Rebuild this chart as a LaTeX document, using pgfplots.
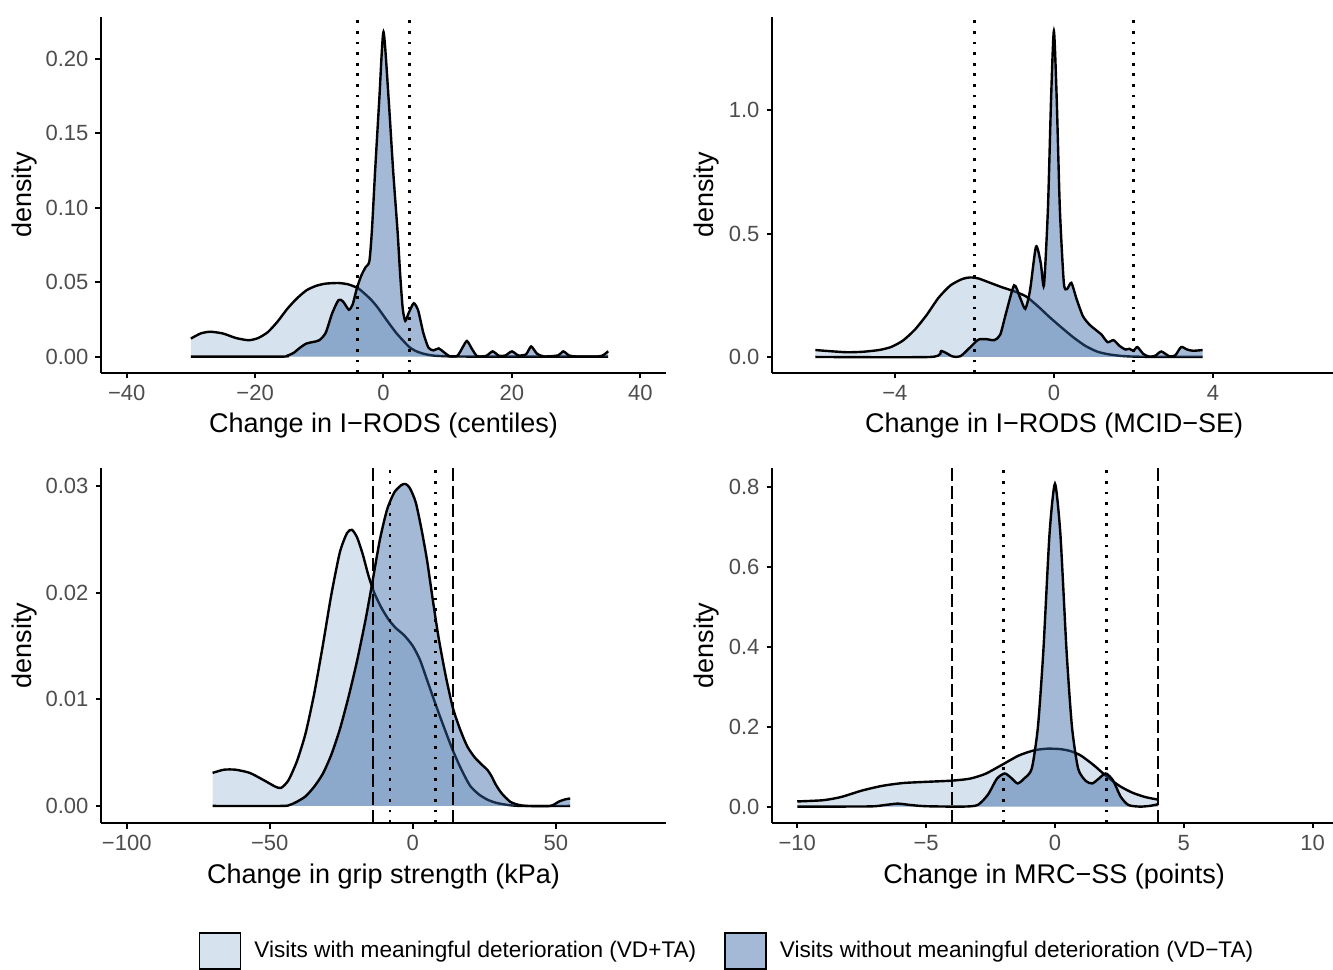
\documentclass[border=0pt]{standalone}
\usepackage{fontspec}
\setmainfont{Liberation Sans}
\usepackage{pgfplots}
\pgfplotsset{compat=1.18}
\usepackage{pgfplotstable}

\definecolor{vdlight}{HTML}{D6E3EE}
\definecolor{vddark}{HTML}{3364A4}
\definecolor{vdkey}{HTML}{A3B9D6}
\definecolor{ticktext}{HTML}{4D4D4D}

% ---- I-RODS centiles
\pgfplotstableread{
x y
-30 0.0121
-28.5 0.0155
-27 0.0167
-25 0.0155
-23 0.0125
-21 0.0110
-19.5 0.0125
-18 0.0165
-16.5 0.0235
-15 0.0320
-13.5 0.0390
-12 0.0445
-10.5 0.0475
-9 0.0490
-7 0.0494
-5.5 0.0485
-4 0.0460
-3 0.0425
-2 0.0385
-1 0.0335
0 0.0275
1 0.0215
2 0.0158
3 0.0110
4 0.0065
5 0.0038
6 0.0022
7 0.0012
8 0.0006
10 0.0002
12 0.0001
15 0
35 0
}\rodsA
\pgfplotstableread{
x y
-30 0
-16 0
-15 0.0006
-14 0.0025
-13 0.0060
-12 0.0088
-11 0.0098
-10 0.0110
-9 0.0160
-8 0.0290
-7 0.0380
-6.3 0.0370
-5.4 0.0315
-4.8 0.0350
-4.2 0.0450
-3.5 0.0540
-2.8 0.0600
-2.2 0.0640
-1.8 0.0850
-1.3 0.1250
-0.65 0.1730
0 0.2180
0.8 0.1730
1.5 0.1250
2.2 0.0835
2.6 0.0550
3.0 0.0320
3.4 0.0240
3.9 0.0290
4.7 0.0358
5.4 0.0310
6.2 0.0160
7.0 0.0060
7.8 0.0042
8.6 0.0055
9.4 0.0030
10.3 0.0003
11.5 0.0005
12.3 0.0060
13 0.0105
13.8 0.0050
14.6 0.0003
16 0.0005
17 0.0035
18 0.0005
19 0.0008
20 0.0035
21 0.0008
22.2 0.0015
23 0.0068
23.9 0.0020
25 0.0001
27.2 0.0008
28 0.0035
28.9 0.0008
30 0.0001
33.5 0.0001
34.3 0.0012
35 0.0036
}\rodsB

% ---- I-RODS MCID-SE
\pgfplotstableread{
x y
-6 0.028
-5.6 0.023
-5.2 0.019
-4.8 0.021
-4.4 0.028
-4.1 0.040
-3.8 0.066
-3.5 0.110
-3.2 0.170
-2.9 0.240
-2.6 0.290
-2.3 0.316
-2.1 0.322
-1.9 0.318
-1.6 0.300
-1.3 0.282
-1.0 0.266
-0.7 0.245
-0.4 0.205
-0.1 0.160
0.2 0.118
0.5 0.078
0.8 0.044
1.1 0.021
1.4 0.010
1.7 0.004
2.0 0.0015
2.5 0.0002
3.74 0
}\mcidA
\pgfplotstableread{
x y
-6 0
-3.1 0
-2.83 0.024
-2.55 0.002
-2.35 0.003
-2.1 0.040
-1.9 0.070
-1.7 0.072
-1.5 0.068
-1.35 0.090
-1.2 0.180
-1.0 0.290
-0.85 0.240
-0.72 0.195
-0.6 0.270
-0.45 0.447
-0.33 0.380
-0.25 0.290
-0.15 0.600
-0.07 1.050
0 1.320
0.07 1.050
0.15 0.600
0.25 0.300
0.33 0.275
0.44 0.300
0.57 0.235
0.73 0.165
0.9 0.130
1.05 0.110
1.2 0.090
1.35 0.060
1.5 0.068
1.65 0.045
1.8 0.030
1.9 0.033
2.0 0.025
2.1 0.040
2.25 0.012
2.4 0.001
2.55 0.005
2.7 0.022
2.9 0.003
3.05 0.006
3.2 0.040
3.35 0.030
3.5 0.025
3.74 0.028
}\mcidB

% ---- grip strength
\pgfplotstableread{
x y
-70 0.0031
-66 0.0034
-62 0.0034
-57 0.0031
-52 0.0024
-48 0.0018
-46 0.0017
-43.5 0.0024
-40.5 0.0042
-37.5 0.0068
-34.5 0.0105
-31.5 0.0150
-28.5 0.0198
-25.5 0.0238
-23 0.0256
-21.3 0.0259
-19.5 0.0252
-17.5 0.0236
-15.5 0.0216
-13.5 0.0200
-11 0.0186
-8.5 0.0175
-6 0.0167
-3 0.0160
0 0.0150
2.5 0.0137
5 0.0118
8 0.0095
11 0.0073
14 0.0052
17 0.0034
20 0.0019
23 0.0011
26 0.0006
29 0.0003
33 0.0001
38 0
55 0
}\gripA
\pgfplotstableread{
x y
-70 0
-46 0
-43 0.0001
-40.5 0.0004
-37.5 0.0009
-34.5 0.0018
-31.5 0.0030
-28.5 0.0048
-25.5 0.0072
-22.5 0.0102
-19.5 0.0136
-16.5 0.0175
-14 0.0212
-11.5 0.0250
-9 0.0278
-6.5 0.0294
-4 0.0301
-2.5 0.0302
-1 0.0298
1 0.0285
3 0.0260
5 0.0230
7 0.0193
9 0.0158
11.5 0.0122
14 0.0092
16.5 0.0072
19 0.0056
21.5 0.0046
24 0.0039
26 0.0034
27.5 0.0028
29 0.0020
31 0.0012
34 0.0004
37 0.0001
40 0
48 0
51 0.0004
53 0.0006
55 0.0007
}\gripB

% ---- MRC-SS
\pgfplotstableread{
x y
-10 0.013
-9 0.016
-8.3 0.024
-7.5 0.040
-6.7 0.052
-5.9 0.059
-5 0.062
-4 0.065
-3.3 0.070
-2.7 0.082
-2.1 0.103
-1.4 0.128
-0.8 0.141
-0.3 0.145
0.2 0.144
0.6 0.139
1.0 0.128
1.5 0.104
2.0 0.076
2.5 0.052
3.0 0.035
3.5 0.024
4.0 0.0175
}\mrcA
\pgfplotstableread{
x y
-10 0
-7.2 0.0005
-6.6 0.004
-6.1 0.0075
-5.6 0.004
-5 0.001
-3.6 0
-3.0 0.004
-2.6 0.030
-2.25 0.070
-1.95 0.083
-1.7 0.072
-1.45 0.058
-1.2 0.070
-0.9 0.095
-0.66 0.200
-0.45 0.390
-0.21 0.683
0 0.808
0.21 0.683
0.45 0.390
0.66 0.200
0.9 0.095
1.2 0.064
1.45 0.058
1.7 0.070
1.97 0.083
2.25 0.066
2.55 0.025
2.85 0.004
3.3 0
3.7 0.002
4.0 0.006
}\mrcB

\pgfplotsset{
  dens/.style={
    scale only axis,
    anchor=south west,
    axis lines=left,
    axis line style={-, line width=1pt, black},
    tick align=outside,
    major tick length=2.75pt,
    tick style={line width=1pt, black},
    tick label style={font=\fontsize{11}{13}\selectfont, text=ticktext},
    label style={font=\fontsize{13.5}{16}\selectfont},
    scaled y ticks=false,
    scaled x ticks=false,
    ylabel={density},
    xlabel style={anchor=center},
    ylabel style={anchor=center},
  },
  lightfill/.style={draw=none, fill=vdlight, smooth, tension=0.4, forget plot},
  darkfill/.style={draw=none, fill=vddark, fill opacity=0.45, smooth, tension=0.4, forget plot},
  curve/.style={black, line width=1.2pt, smooth, tension=0.4, forget plot},
  dotv/.style={black, line width=1.4pt, dash pattern=on 1.4pt off 3.9pt, forget plot},
  dashv/.style={black, line width=1.2pt, dash pattern=on 6.5pt off 2.5pt, forget plot},
}

\begin{document}
\begin{tikzpicture}
\useasboundingbox (0pt,0pt) rectangle (666.5pt,484.5pt);

% top left
\begin{axis}[dens,
  at={(50.5pt,298pt)}, width=282.5pt, height=178pt,
  xmin=-44, xmax=44, ymin=-0.011, ymax=0.228,
  xtick={-40,-20,0,20,40}, xticklabels={−40,−20,0,20,40},
  ytick={0,0.05,0.1,0.15,0.2}, yticklabels={0.00,0.05,0.10,0.15,0.20},
  xlabel={Change in I−RODS (centiles)},
  xlabel style={at={(axis description cs:0.5,-0.148)}},
  ylabel style={at={(axis description cs:-0.1345,0.5)}},
]
\addplot[lightfill] table {\rodsA} \closedcycle;
\addplot[curve] table {\rodsA};
\addplot[darkfill] table {\rodsB} \closedcycle;
\addplot[curve] table {\rodsB};
\addplot[dotv] coordinates {(-4,-0.011) (-4,0.228)};
\addplot[dotv] coordinates {(4,-0.011) (4,0.228)};
\end{axis}

% top right
\begin{axis}[dens,
  at={(386pt,298pt)}, width=280.5pt, height=178pt,
  xmin=-7.09, xmax=7.02, ymin=-0.065, ymax=1.377,
  xtick={-4,0,4}, xticklabels={−4,0,4},
  ytick={0,0.5,1}, yticklabels={0.0,0.5,1.0},
  xlabel={Change in I−RODS (MCID−SE)},
  xlabel style={at={(axis description cs:0.503,-0.148)}},
  ylabel style={at={(axis description cs:-0.1176,0.5)}},
]
\addplot[lightfill] table {\mcidA} \closedcycle;
\addplot[curve] table {\mcidA};
\addplot[darkfill] table {\mcidB} \closedcycle;
\addplot[curve] table {\mcidB};
\addplot[dotv] coordinates {(-2,-0.065) (-2,1.377)};
\addplot[dotv] coordinates {(2,-0.065) (2,1.377)};
\end{axis}

% bottom left
\begin{axis}[dens,
  at={(50.5pt,73pt)}, width=282.5pt, height=177.5pt,
  xmin=-109, xmax=88.5, ymin=-0.0016, ymax=0.0317,
  xtick={-100,-50,0,50}, xticklabels={−100,−50,0,50},
  ytick={0,0.01,0.02,0.03}, yticklabels={0.00,0.01,0.02,0.03},
  xlabel={Change in grip strength (kPa)},
  xlabel style={at={(axis description cs:0.5,-0.15)}},
  ylabel style={at={(axis description cs:-0.1345,0.5)}},
  legend columns=2,
  legend style={at={(axis description cs:1.108,-0.3606)}, anchor=center,
    draw=none, fill=none, font=\fontsize{11.3}{13}\selectfont,
    /tikz/every even column/.append style={column sep=13pt},
    nodes={inner sep=1pt}},
  legend image code/.code={\draw[#1] (0pt,-9pt) rectangle (20.5pt,9pt);},
]
\addplot[lightfill] table {\gripA} \closedcycle;
\addplot[curve] table {\gripA};
\addplot[darkfill] table {\gripB} \closedcycle;
\addplot[curve] table {\gripB};
\addplot[dashv] coordinates {(-14,-0.0016) (-14,0.0317)};
\addplot[dashv] coordinates {(14,-0.0016) (14,0.0317)};
\addplot[dotv] coordinates {(-8,-0.0016) (-8,0.0317)};
\addplot[dotv] coordinates {(8,-0.0016) (8,0.0317)};
\addlegendimage{fill=vdlight, draw=black, line width=0.8pt}
\addlegendentry{\hspace{5.5pt}Visits with meaningful deterioration (VD+TA)}
\addlegendimage{fill=vdkey, draw=black, line width=0.8pt}
\addlegendentry{\hspace{5.5pt}Visits without meaningful deterioration (VD−TA)}
\end{axis}

% bottom right
\begin{axis}[dens,
  at={(386pt,73pt)}, width=280.5pt, height=177.5pt,
  xmin=-10.98, xmax=10.79, ymin=-0.041, ymax=0.8475,
  xtick={-10,-5,0,5,10}, xticklabels={−10,−5,0,5,10},
  ytick={0,0.2,0.4,0.6,0.8}, yticklabels={0.0,0.2,0.4,0.6,0.8},
  xlabel={Change in MRC−SS (points)},
  xlabel style={at={(axis description cs:0.503,-0.15)}},
  ylabel style={at={(axis description cs:-0.1176,0.5)}},
]
\addplot[lightfill] table {\mrcA} \closedcycle;
\addplot[curve] table {\mrcA};
\addplot[darkfill] table {\mrcB} \closedcycle;
\addplot[curve] table {\mrcB};
\addplot[dashv] coordinates {(-4,-0.041) (-4,0.8475)};
\addplot[dashv] coordinates {(4,-0.041) (4,0.8475)};
\addplot[dotv] coordinates {(-2,-0.041) (-2,0.8475)};
\addplot[dotv] coordinates {(2,-0.041) (2,0.8475)};
\end{axis}
\end{tikzpicture}
\end{document}
